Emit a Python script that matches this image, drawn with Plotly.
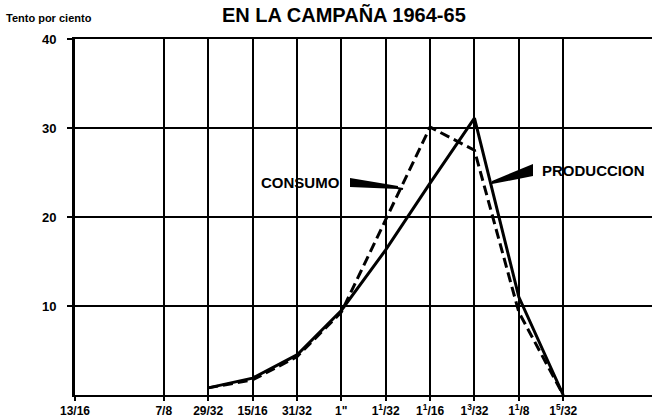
import plotly.graph_objects as go

# x positions in 32nds of an inch
tick_pos = [26, 28, 29, 30, 31, 32, 33, 34, 35, 36, 37]
tick_labels = ["13/16", "7/8", "29/32", "15/16", "31/32", "1\"",
               "1<sup>1</sup>/32", "1<sup>1</sup>/16", "1<sup>3</sup>/32",
               "1<sup>1</sup>/8", "1<sup>5</sup>/32"]

x_32nds = [29, 30, 31, 32, 33, 34, 35, 36, 37]
produccion = [0.8, 1.9, 4.5, 9.5, 16.3, 23.8, 31.1, 11.0, 0.0]
consumo = [0.8, 1.7, 4.3, 9.3, 19.7, 30.1, 27.5, 9.3, 0.0]

FONT = "Liberation Sans, Arial, sans-serif"
W, H = 652, 420

fig = go.Figure()
fig.add_trace(go.Scatter(x=x_32nds, y=produccion, mode="lines", name="PRODUCCION",
                         line=dict(color="black", width=3)))
fig.add_trace(go.Scatter(x=x_32nds, y=consumo, mode="lines", name="CONSUMO",
                         line=dict(color="black", width=3, dash="10px,5px")))

# pixel -> data helpers for label pointers
L, R, T, B = 75, 652, 39, 395
X0, X1, Y0, Y1 = 26, 39, 0, 40
def dx(px):
    return X0 + (px - L) / (R - L) * (X1 - X0)
def dy(py):
    return Y0 + (B - py) / (B - T) * (Y1 - Y0)
def path(pts):
    return "M " + " L ".join(f"{dx(a):.4f},{dy(b):.4f}" for a, b in pts) + " Z"

shapes = [
    dict(type="path", xref="x", yref="y", line=dict(width=0), fillcolor="black",
         path=path([(350, 178), (398, 186), (398, 189), (350, 187)])),
    dict(type="line", xref="x", yref="y", x0=dx(397), y0=dy(188), x1=dx(403), y1=dy(189),
         line=dict(color="black", width=2)),
    dict(type="path", xref="x", yref="y", line=dict(width=0), fillcolor="black",
         path=path([(533, 164), (533, 176), (492, 184), (492, 181)])),
]

annotations = [
    dict(text="<b>CONSUMO</b>", x=dx(300), y=dy(182), xref="x", yref="y", showarrow=False,
         font=dict(family=FONT, size=15, color="black")),
    dict(text="<b>PRODUCCION</b>", x=dx(593), y=dy(170), xref="x", yref="y", showarrow=False,
         font=dict(family=FONT, size=15, color="black")),
    dict(text="<b>EN LA CAMPAÑA 1964-65</b>", x=344, y=15, xref="paper", yref="paper",
         showarrow=False, font=dict(family=FONT, size=20, color="black")),
    dict(text="<b>Tento por ciento</b>", x=49, y=18, xref="paper", yref="paper",
         showarrow=False, font=dict(family=FONT, size=11, color="black")),
]
for a in annotations:
    a["xanchor"] = "center"
    a["yanchor"] = "middle"
    if a["xref"] == "paper":
        a["x"] = (a["x"] - L) / (R - L)
        a["y"] = (B - a["y"]) / (B - T)

fig.update_layout(
    width=W, height=H,
    margin=dict(l=L, r=W - R, t=T, b=H - B),
    paper_bgcolor="white", plot_bgcolor="white",
    showlegend=False,
    shapes=shapes, annotations=annotations,
    font=dict(family=FONT, color="black"),
    xaxis=dict(range=[X0, X1], tickmode="array", tickvals=tick_pos,
               ticktext=["<b>" + t + "</b>" for t in tick_labels],
               showgrid=True, gridcolor="black", gridwidth=2,
               showline=True, linecolor="black", linewidth=2, mirror=True,
               ticks="outside", ticklen=4, tickcolor="black", tickwidth=2,
               tickfont=dict(family=FONT, size=12, color="black"), zeroline=False),
    yaxis=dict(range=[Y0, Y1], tickmode="array", tickvals=[10, 20, 30, 40],
               ticktext=["<b>10</b>", "<b>20</b>", "<b>30</b>", "<b>40</b>"],
               showgrid=True, gridcolor="black", gridwidth=2,
               showline=True, linecolor="black", linewidth=3,
               ticks="outside", ticklen=5, tickcolor="black", tickwidth=2,
               ticklabelstandoff=8,
               tickfont=dict(family=FONT, size=13, color="black"), zeroline=False),
)

fig.write_html("out.html", config={"displayModeBar": False},
               post_script="document.body.style.margin='0';document.body.style.overflow='hidden';")
